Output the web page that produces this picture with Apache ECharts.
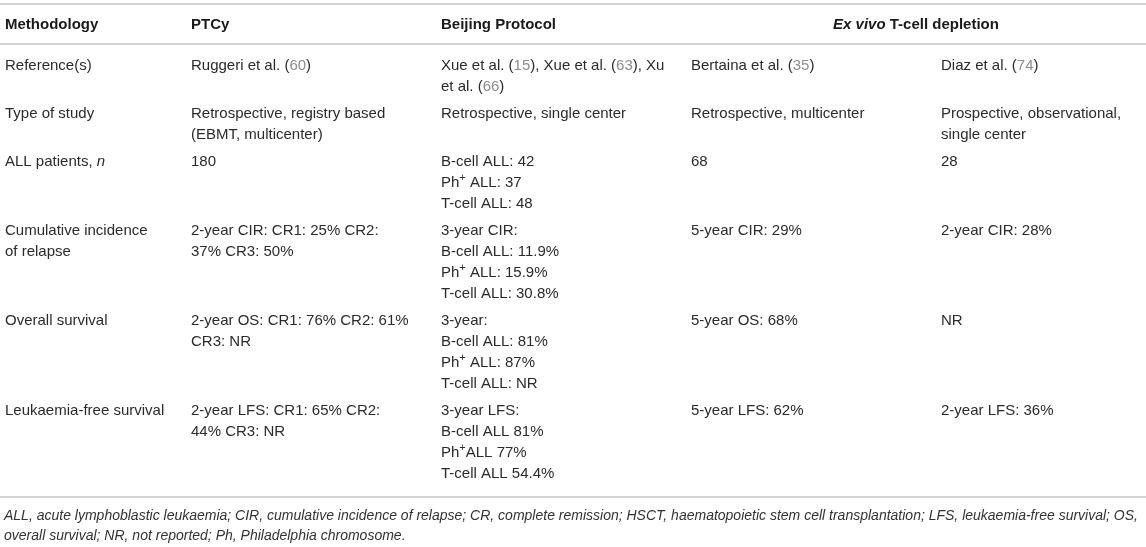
<!DOCTYPE html>
<html><head><meta charset="utf-8">
<script src="https://cdn.jsdelivr.net/npm/echarts@6/dist/echarts.min.js"></script>
<style>html,body{margin:0;padding:0;background:#fff}#c{width:1146px;height:547px}</style>
</head><body><div id="c"></div>
<script>
// ---- table content ----
const headers = ["Methodology", "PTCy", "Beijing Protocol", "_Ex vivo_ T-cell depletion"];
const rowLabels = ["Reference(s)", "Type of study", "ALL patients, _n_", "Cumulative incidence\nof relapse", "Overall survival", "Leukaemia-free survival"];
const ptcy = ["Ruggeri et al. (60)", "Retrospective, registry based\n(EBMT, multicenter)", "180", "2-year CIR: CR1: 25% CR2:\n37% CR3: 50%", "2-year OS: CR1: 76% CR2: 61%\nCR3: NR", "2-year LFS: CR1: 65% CR2:\n44% CR3: NR"];
const beijing = ["Xue et al. (15), Xue et al. (63), Xu\net al. (66)", "Retrospective, single center", "B-cell ALL: 42\nPh^+ ALL: 37\nT-cell ALL: 48", "3-year CIR:\nB-cell ALL: 11.9%\nPh^+ ALL: 15.9%\nT-cell ALL: 30.8%", "3-year:\nB-cell ALL: 81%\nPh^+ ALL: 87%\nT-cell ALL: NR", "3-year LFS:\nB-cell ALL 81%\nPh^+ALL 77%\nT-cell ALL 54.4%"];
const bertaina = ["Bertaina et al. (35)", "Retrospective, multicenter", "68", "5-year CIR: 29%", "5-year OS: 68%", "5-year LFS: 62%"];
const diaz = ["Diaz et al. (74)", "Prospective, observational,\nsingle center", "28", "2-year CIR: 28%", "NR", "2-year LFS: 36%"];
const footnote = "ALL, acute lymphoblastic leukaemia; CIR, cumulative incidence of relapse; CR, complete remission; HSCT, haematopoietic stem cell transplantation; LFS, leukaemia-free survival; OS,\noverall survival; NR, not reported; Ph, Philadelphia chromosome.";

// ---- layout ----
const W = 1146, H = 547;
const FONT = '"Liberation Sans", Arial, Helvetica, sans-serif';
const colX = [5, 191, 441, 691, 941];
const spanCenter = (691 + 1141) / 2;
const lineH = 21, rowGap = 6, firstLineY = 66, headerY = 25;
const ruleY = [4, 44, 497];

const columns = [rowLabels, ptcy, beijing, bertaina, diaz];
const lineCount = rowLabels.map((_, r) => Math.max(...columns.map(col => col[r].split('\n').length)));
function rowTop(r) { let y = firstLineY; for (let i = 0; i < r; i++) y += lineCount[i] * lineH + rowGap; return y; }

function toRich(s, header) {
  return s.replace(/\((\d+)\)/g, '({g|$1})')
          .replace(/\^\+/g, '{s|+}')
          .replace(/_([^_]+)_/g, header ? '{hi|$1}' : '{i|$1}');
}
const RICH = {
  g: { fill: '#8c8c8c', fontSize: 15, fontFamily: FONT, lineHeight: lineH },
  s: { fill: '#2b2b2b', fontSize: 11, fontFamily: FONT, lineHeight: 13, verticalAlign: 'top' },
  i: { fill: '#2b2b2b', fontSize: 15, fontFamily: FONT, fontStyle: 'italic', lineHeight: lineH },
  hi: { fill: '#1a1a1a', fontSize: 15, fontFamily: FONT, fontStyle: 'italic', fontWeight: 'bold', lineHeight: lineH }
};

const cellData = [];
rowLabels.forEach((_, r) => columns.forEach((_, c) => cellData.push([c, r])));
const headerData = headers.map((_, c) => [c]);
const ruleData = ruleY.map((y, i) => [i]);

const chart = echarts.init(document.getElementById('c'));
chart.setOption({
  animation: false,
  backgroundColor: '#fff',
  title: {
    text: footnote, left: 4, top: 506, padding: 0,
    textStyle: { fontFamily: FONT, fontStyle: 'italic', fontWeight: 'normal', fontSize: 14, color: '#333', lineHeight: 20 }
  },
  grid: { left: 0, right: 0, top: 0, bottom: 0 },
  xAxis: { type: 'value', min: 0, max: W, show: false },
  yAxis: { type: 'value', min: 0, max: H, inverse: true, show: false },
  series: [
    {
      type: 'custom', silent: true, clip: false, data: ruleData,
      renderItem: function (params, api) {
        const y = ruleY[api.value(0)];
        const a = api.coord([0, y]), b = api.coord([W, y]);
        return { type: 'line', shape: { x1: a[0], y1: a[1], x2: b[0], y2: b[1] }, style: { stroke: '#c4c4c4', lineWidth: 1.5 } };
      }
    },
    {
      type: 'custom', silent: true, clip: false, data: headerData,
      renderItem: function (params, api) {
        const c = api.value(0);
        const span = c === 3;
        const p = api.coord([span ? spanCenter : colX[c], headerY]);
        return { type: 'text', x: p[0], y: p[1], style: {
          text: toRich(headers[c], true), fill: '#1a1a1a', fontSize: 15, fontWeight: 'bold', fontFamily: FONT,
          lineHeight: lineH, align: span ? 'center' : 'left', verticalAlign: 'middle', rich: RICH } };
      }
    },
    {
      type: 'custom', silent: true, clip: false, data: cellData,
      renderItem: function (params, api) {
        const c = api.value(0), r = api.value(1);
        const p = api.coord([colX[c], rowTop(r) - lineH / 2]);
        return { type: 'text', x: p[0], y: p[1], style: {
          text: toRich(columns[c][r], false), fill: '#2b2b2b', fontSize: 15, fontFamily: FONT,
          lineHeight: lineH, align: 'left', verticalAlign: 'top', rich: RICH } };
      }
    }
  ]
});
</script></body></html>
